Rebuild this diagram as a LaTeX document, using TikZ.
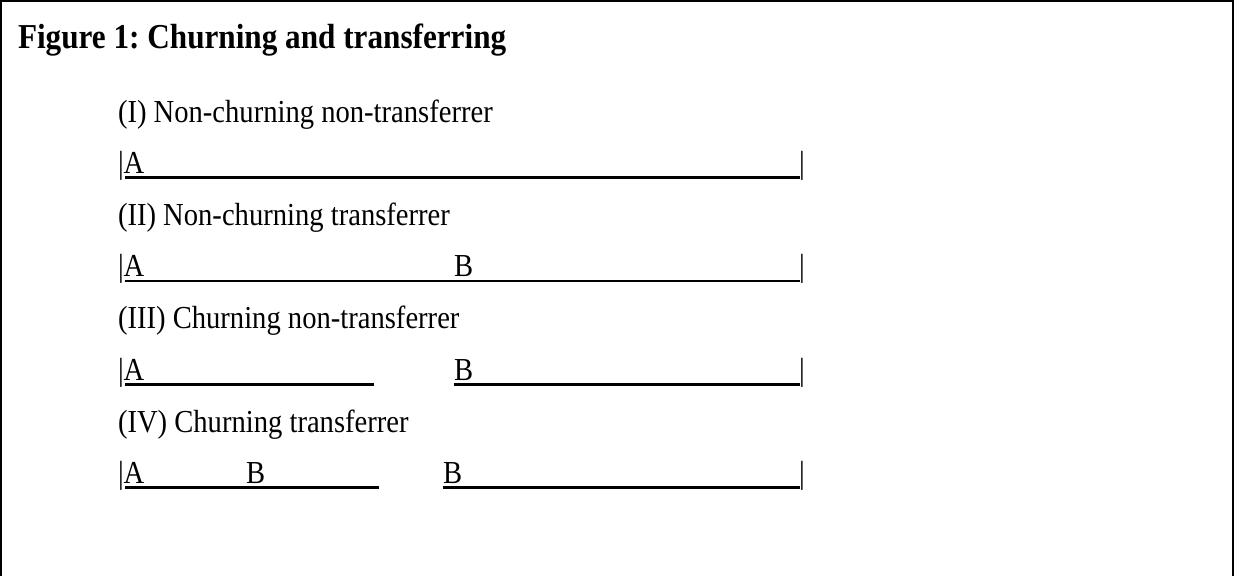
\documentclass[tikz,border=0pt]{standalone}
\usepackage{fontspec}
\usepackage{graphicx}
\setmainfont{Liberation Serif}
\newcommand{\tallbox}[1]{\scalebox{1}[1.12]{#1}}
\begin{document}
\frenchspacing
\begin{tikzpicture}[x=1pt,y=-1pt,
  txt/.style={anchor=base west,inner sep=0pt,outer sep=0pt,font=\fontsize{28.6}{34}\selectfont},
  bar/.style={anchor=base,inner sep=0pt,outer sep=0pt,font=\fontsize{28.6}{34}\selectfont},
  uline/.style={line width=2.8pt},
  frame/.style={line width=2pt}]
\useasboundingbox (0,0) rectangle (1234,576);
% frame (open at the bottom)
\draw[frame] (1,576) -- (1,1) -- (1233,1) -- (1233,576);
% title
\node[txt,font=\fontsize{31.2}{37}\selectfont\bfseries] (title) at (18,48) {\tallbox{Figure 1: Churning and transferring}};
% (I)
\node[txt] (h1) at (118,122) {\tallbox{(I) Non-churning non-transferrer}};
\node[txt] (a1) at (118,173.5) {\tallbox{|A}};
\node[bar] (r1) at (802,173.5) {\tallbox{|}};
\draw[uline] (125,177.5) -- (800,177.5);
% (II)
\node[txt] (h2) at (118,225.2) {\tallbox{(II) Non-churning transferrer}};
\node[txt] (a2) at (118,276.9) {\tallbox{|A}};
\node[txt] (b2) at (454,276.9) {\tallbox{B}};
\node[bar] (r2) at (802,276.9) {\tallbox{|}};
\draw[uline] (125,280.9) -- (800,280.9);
% (III)
\node[txt] (h3) at (118,328.6) {\tallbox{(III) Churning non-transferrer}};
\node[txt] (a3) at (118,380.3) {\tallbox{|A}};
\node[txt] (b3) at (454,380.3) {\tallbox{B}};
\node[bar] (r3) at (802,380.3) {\tallbox{|}};
\draw[uline] (125,384.3) -- (374,384.3);
\draw[uline] (454,384.3) -- (800,384.3);
% (IV)
\node[txt] (h4) at (118,432) {\tallbox{(IV) Churning transferrer}};
\node[txt] (a4) at (118,483.7) {\tallbox{|A}};
\node[txt] (b4) at (246,483.7) {\tallbox{B}};
\node[txt] (c4) at (443,483.7) {\tallbox{B}};
\node[bar] (r4) at (802,483.7) {\tallbox{|}};
\draw[uline] (125,487.7) -- (379,487.7);
\draw[uline] (443,487.7) -- (800,487.7);
\end{tikzpicture}
\end{document}
